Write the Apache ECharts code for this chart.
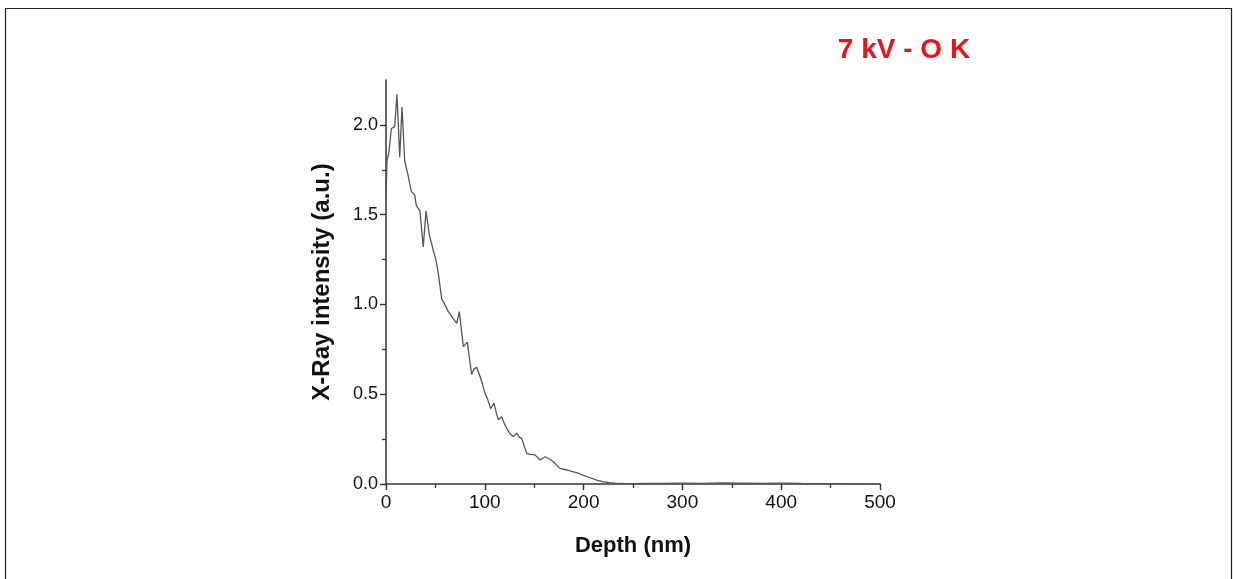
<!DOCTYPE html>
<html>
<head>
<meta charset="utf-8">
<script src="https://cdn.jsdelivr.net/npm/echarts@6/dist/echarts.min.js"></script>
<style>
html,body{margin:0;padding:0;background:#fff;}
#chart{width:1233px;height:579px;}
</style>
</head>
<body>
<div id="chart"></div>
<script>
// Depth (nm)
const depth = [0, 1, 3, 5.4, 8.8, 11.1, 13.9, 16.2, 18.9, 22.3, 25.6, 29, 30.7, 34.4, 37.7, 40.5, 43.8, 47.9, 50.5, 53, 56.4, 59.5, 63.1, 67, 71.6, 74.2, 78.3, 82.3, 86.7, 89, 91.8, 95.1, 97.5, 100.2, 103, 106, 109.3, 111.5, 113.7, 117.1, 119.5, 122.2, 125.5, 128.8, 132.3, 135, 137.3, 142.4, 146, 150.8, 155.9, 161, 165.8, 169.4, 176, 182.9, 188, 194.6, 201, 208, 214, 219, 226, 233, 240, 250, 265, 280, 300, 320, 340, 360, 380, 400, 420, 440, 460, 480, 500];
// X-Ray intensity (a.u.)
const intensity = [1.58, 1.80, 1.85, 1.98, 1.99, 2.17, 1.82, 2.10, 1.80, 1.72, 1.63, 1.61, 1.55, 1.52, 1.32, 1.52, 1.39, 1.30, 1.25, 1.17, 1.03, 1.00, 0.96, 0.93, 0.895, 0.96, 0.765, 0.79, 0.61, 0.64, 0.65, 0.60, 0.56, 0.505, 0.47, 0.42, 0.45, 0.40, 0.357, 0.375, 0.34, 0.31, 0.28, 0.264, 0.283, 0.26, 0.254, 0.171, 0.165, 0.162, 0.134, 0.152, 0.138, 0.124, 0.087, 0.078, 0.07, 0.06, 0.045, 0.032, 0.02, 0.013, 0.008, 0.004, 0.003, 0.002, 0.004, 0.003, 0.005, 0.004, 0.006, 0.005, 0.004, 0.005, 0.003, 0.002, 0.002, 0.001, 0.001];
const xMajor = [0, 100, 200, 300, 400, 500];
const xMinor = [50, 150, 250, 350, 450];
const yMajor = [0, 0.5, 1.0, 1.5, 2.0];
const yMinor = [0.25, 0.75, 1.25, 1.75];
const titleText = '7 kV - O K';

const points = depth.map((d, i) => [d, intensity[i]]);
const font = 'Liberation Sans, Arial, sans-serif';
const axisColor = '#333';

const chart = echarts.init(document.getElementById('chart'), null, {renderer: 'canvas'});
chart.setOption({
  animation: false,
  backgroundColor: '#fff',
  title: {
    text: titleText,
    left: 899, top: 31, textAlign: 'center',
    textStyle: {color: '#e8141b', fontSize: 28, fontWeight: 'bold', fontFamily: font}
  },
  graphic: [{
    type: 'rect', shape: {x: 5.5, y: 8.5, width: 1226, height: 600},
    style: {fill: 'none', stroke: '#222', lineWidth: 1.2}, silent: true
  }],
  grid: {left: 386, right: 353, top: 80, bottom: 95, containLabel: false},
  xAxis: [{
    type: 'value', min: 0, max: 500, interval: 100,
    name: 'Depth (nm)', nameLocation: 'middle', nameGap: 51,
    nameTextStyle: {fontSize: 22, fontWeight: 'bold', color: '#111', fontFamily: font},
    axisLine: {show: true, lineStyle: {color: axisColor, width: 1.5}},
    axisTick: {show: true, length: 6, customValues: xMajor, lineStyle: {color: axisColor, width: 1.4}},
    axisLabel: {fontSize: 19, color: '#111', margin: 9, fontFamily: font, customValues: xMajor},
    splitLine: {show: false}
  }, {
    type: 'value', min: 0, max: 500, position: 'bottom',
    axisLine: {show: false},
    axisTick: {show: true, length: 4, customValues: xMinor, lineStyle: {color: axisColor, width: 1.3}},
    axisLabel: {show: false}, splitLine: {show: false}
  }],
  yAxis: [{
    type: 'value', min: 0, max: 2.25,
    name: 'X-Ray intensity (a.u.)', nameLocation: 'middle', nameGap: 52,
    nameTextStyle: {fontSize: 24, fontWeight: 'bold', color: '#111', fontFamily: font},
    axisLine: {show: true, lineStyle: {color: axisColor, width: 1.5}},
    axisTick: {show: true, length: 6, customValues: yMajor, lineStyle: {color: axisColor, width: 1.4}},
    axisLabel: {fontSize: 18, color: '#111', margin: 8, fontFamily: font, customValues: yMajor,
      formatter: v => v.toFixed(1)},
    splitLine: {show: false}
  }, {
    type: 'value', min: 0, max: 2.25, position: 'left',
    axisLine: {show: false},
    axisTick: {show: true, length: 4, customValues: yMinor, lineStyle: {color: axisColor, width: 1.3}},
    axisLabel: {show: false}, splitLine: {show: false}
  }],
  series: [{
    type: 'line', data: points, showSymbol: false, symbol: 'none',
    xAxisIndex: 0, yAxisIndex: 0,
    lineStyle: {color: '#555', width: 1.3}
  }]
});
</script>
</body>
</html>
